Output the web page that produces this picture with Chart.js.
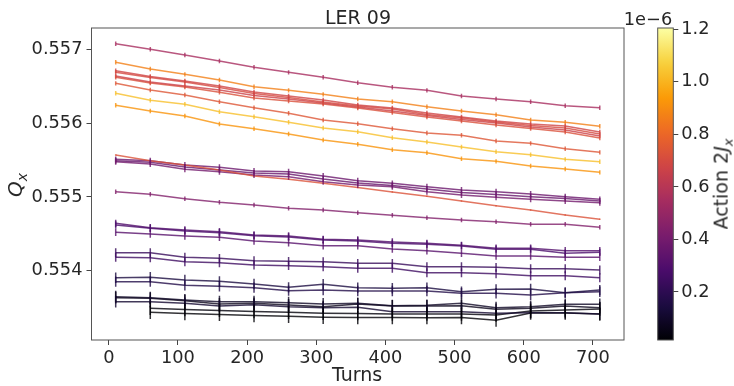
<!DOCTYPE html>
<html>
<head>
<meta charset="utf-8">
<script src="https://cdn.jsdelivr.net/npm/chart.js@4"></script>
<style>
body { margin: 0; background: #fff; }
#wrap { position: relative; width: 734px; height: 386px; font-family: "DejaVu Sans", sans-serif; color: #262626; }
canvas { position: absolute; top: 0; }
.lbl { position: absolute; white-space: nowrap; line-height: 1; transform: translate(-50%, -50%); }
.rot { transform: translate(-50%, -50%) rotate(-90deg); }
</style>
</head>
<body>
<div id="wrap">
  <canvas id="main" width="734" height="386" style="left:0"></canvas>
  <canvas id="cbar" width="94" height="386" style="left:640px"></canvas>
  <div class="lbl" style="left:358px;top:17px;font-size:19px">LER 09</div>
  <div class="lbl" style="left:357px;top:374px;font-size:19px">Turns</div>
  <div class="lbl rot" style="left:17px;top:185px;font-size:20px"><i>Q</i><sub style="font-size:14px"><i>x</i></sub></div>
  <div class="lbl rot" style="left:723px;top:184px;font-size:19px">Action 2<i>J</i><sub style="font-size:13px"><i>x</i></sub></div>
  <div class="lbl" style="left:648px;top:19px;font-size:17.8px">1e−6</div>
</div>
<script>
// turns at which the tune was measured
const turns = [10, 60, 110, 160, 210, 260, 310, 360, 410, 460, 510, 560, 610, 660, 710];

// top group (high tune)
const t1 = [0.557076, 0.557000, 0.556923, 0.556841, 0.556756, 0.556688, 0.556621, 0.556547, 0.556485, 0.556444, 0.556368, 0.556327, 0.556290, 0.556236, 0.556209];
const t2 = [0.556824, 0.556733, 0.556661, 0.556584, 0.556493, 0.556444, 0.556390, 0.556327, 0.556290, 0.556222, 0.556164, 0.556114, 0.556042, 0.556011, 0.555957];
const t3 = [0.556710, 0.556631, 0.556570, 0.556503, 0.556421, 0.556367, 0.556313, 0.556245, 0.556205, 0.556137, 0.556083, 0.556028, 0.555988, 0.555961, 0.555879];
const t4 = [0.556688, 0.556618, 0.556557, 0.556482, 0.556401, 0.556347, 0.556286, 0.556232, 0.556191, 0.556117, 0.556069, 0.556015, 0.555967, 0.555934, 0.555852];
const t5 = [0.556638, 0.556557, 0.556503, 0.556449, 0.556374, 0.556327, 0.556272, 0.556218, 0.556164, 0.556103, 0.556049, 0.556001, 0.555947, 0.555907, 0.555825];
const t6 = [0.556621, 0.556543, 0.556489, 0.556417, 0.556340, 0.556300, 0.556259, 0.556205, 0.556144, 0.556083, 0.556028, 0.555974, 0.555927, 0.555879, 0.555798];
const t7 = [0.556539, 0.556449, 0.556381, 0.556290, 0.556209, 0.556133, 0.556042, 0.555992, 0.555924, 0.555866, 0.555835, 0.555758, 0.555726, 0.555653, 0.555604];
const t8 = [0.556404, 0.556309, 0.556255, 0.556154, 0.556087, 0.556011, 0.555934, 0.555883, 0.555802, 0.555744, 0.555676, 0.555612, 0.555572, 0.555509, 0.555477];
const t9 = [0.556241, 0.556164, 0.556096, 0.555988, 0.555924, 0.555852, 0.555771, 0.555713, 0.555640, 0.555599, 0.555518, 0.555482, 0.555418, 0.555378, 0.555333];

// middle group
const m1 = [0.555568, 0.555491, 0.555432, 0.555364, 0.555283, 0.555238, 0.555184, 0.555127, 0.555066, 0.555008, 0.554944, 0.554881, 0.554822, 0.554755, 0.554696];
const m2 = [0.555509, 0.555491, 0.555432, 0.555401, 0.555351, 0.555341, 0.555283, 0.555220, 0.555184, 0.555138, 0.555093, 0.555070, 0.555039, 0.555003, 0.554967];
const m3 = [0.555491, 0.555469, 0.555405, 0.555364, 0.555324, 0.555310, 0.555243, 0.555188, 0.555154, 0.555107, 0.555060, 0.555033, 0.555003, 0.554978, 0.554944];
const m4 = [0.555477, 0.555446, 0.555374, 0.555341, 0.555297, 0.555274, 0.555206, 0.555161, 0.555138, 0.555070, 0.555026, 0.554995, 0.554967, 0.554944, 0.554921];
const m5 = [0.555070, 0.555035, 0.554976, 0.554927, 0.554890, 0.554846, 0.554822, 0.554786, 0.554751, 0.554718, 0.554687, 0.554664, 0.554629, 0.554629, 0.554588];
const m6 = [0.554642, 0.554583, 0.554551, 0.554528, 0.554484, 0.554470, 0.554425, 0.554416, 0.554389, 0.554371, 0.554344, 0.554304, 0.554304, 0.554271, 0.554271];
const m7 = [0.554619, 0.554575, 0.554538, 0.554515, 0.554474, 0.554457, 0.554416, 0.554402, 0.554371, 0.554358, 0.554335, 0.554290, 0.554290, 0.554236, 0.554249];
const m8 = [0.554520, 0.554497, 0.554470, 0.554453, 0.554402, 0.554379, 0.554339, 0.554339, 0.554294, 0.554271, 0.554236, 0.554199, 0.554199, 0.554182, 0.554182];

// bottom group (low amplitude)
const b1 = [0.554244, 0.554244, 0.554182, 0.554168, 0.554136, 0.554127, 0.554122, 0.554100, 0.554100, 0.554054, 0.554054, 0.554046, 0.554027, 0.554027, 0.554009];
const b2 = [0.554182, 0.554176, 0.554122, 0.554108, 0.554077, 0.554068, 0.554054, 0.554033, 0.554033, 0.553973, 0.553973, 0.553959, 0.553932, 0.553932, 0.553905];
const b3 = [0.553905, 0.553911, 0.553874, 0.553856, 0.553820, 0.553775, 0.553816, 0.553770, 0.553762, 0.553770, 0.553715, 0.553748, 0.553752, 0.553702, 0.553738];
const b4 = [0.553851, 0.553851, 0.553802, 0.553789, 0.553770, 0.553729, 0.553738, 0.553725, 0.553725, 0.553725, 0.553694, 0.553694, 0.553671, 0.553702, 0.553715];
const b5 = [0.553648, 0.553634, 0.553603, 0.553580, 0.553580, 0.553566, 0.553549, 0.553558, 0.553526, 0.553531, 0.553558, 0.553499, 0.553512, 0.553545, 0.553545];
const b6 = [0.553634, 0.553626, 0.553593, 0.553549, 0.553558, 0.553535, 0.553512, 0.553549, 0.553522, 0.553522, 0.553526, 0.553477, 0.553491, 0.553522, 0.553499];
const b7 = [0.553580, 0.553580, 0.553558, 0.553522, 0.553539, 0.553512, 0.553499, 0.553504, 0.553444, 0.553444, 0.553444, 0.553423, 0.553431, 0.553431, 0.553413];
const b8 = [null, 0.553491, 0.553474, 0.553461, 0.553447, 0.553436, 0.553423, 0.553420, 0.553413, 0.553413, 0.553413, 0.553400, 0.553454, 0.553467, 0.553481];
const b9 = [null, 0.553436, 0.553420, 0.553407, 0.553393, 0.553382, 0.553369, 0.553366, 0.553366, 0.553363, 0.553366, 0.553330, 0.553427, 0.553427, 0.553413];

const series = [t1, t2, t3, t4, t5, t6, t7, t8, t9, m1, m2, m3, m4, m5, m6, m7, m8, b1, b2, b3, b4, b5, b6, b7, b8, b9];
// action 2Jx of each particle, in units of 1e-6
const actions = [0.55, 0.87, 0.68, 0.70, 0.66, 0.72, 0.74, 1.03, 0.92, 0.73, 0.38, 0.36, 0.40, 0.44, 0.30, 0.28, 0.32, 0.23, 0.25, 0.15, 0.17, 0.09, 0.07, 0.11, 0.03, 0.02];
// half height of the error bars
const errs = [0.00003, 0.00003, 0.00003, 0.00003, 0.00003, 0.00003, 0.00003, 0.00003, 0.00003, 0.00001, 0.00004, 0.00004, 0.00004, 0.00003, 0.00005, 0.00005, 0.00005, 0.00006, 0.00006, 0.00007, 0.00007, 0.00008, 0.00008, 0.00008, 0.00009, 0.00009];

const xTicks = [0, 100, 200, 300, 400, 500, 600, 700];
const yTicks = [0.554, 0.555, 0.556, 0.557];
const cbTicks = [0.2, 0.4, 0.6, 0.8, 1.0, 1.2];
const cbMin = 0.017, cbMax = 1.205;

// inferno colormap
const inf = ['#000004', '#1b0c41', '#4a0c6b', '#781c6d', '#a52c60', '#cf4446', '#ed6925', '#fb9b06', '#f7d13d', '#fcffa4'];
function hex(h) { return [1, 3, 5].map(i => parseInt(h.substr(i, 2), 16)); }
function inferno(t, alpha) {
  t = Math.max(0, Math.min(1, t));
  const p = t * (inf.length - 1), i = Math.min(inf.length - 2, Math.floor(p)), f = p - i;
  const a = hex(inf[i]), b = hex(inf[i + 1]);
  const c = a.map((v, k) => Math.round(v + (b[k] - v) * f));
  return `rgba(${c[0]},${c[1]},${c[2]},${alpha})`;
}
const norm = a => (a - cbMin) / (cbMax - cbMin);

Chart.defaults.font.family = '"DejaVu Sans", sans-serif';
Chart.defaults.color = '#262626';

const datasets = series.map((q, i) => ({
  data: turns.map((t, j) => q[j] == null ? null : { x: t, y: q[j] }).filter(Boolean),
  borderColor: inferno(norm(actions[i]), 0.8),
  borderWidth: 1.5,
  pointRadius: 0,
  tension: 0,
  fill: false
}));

const errorBars = {
  id: 'errorBars',
  afterDatasetsDraw(chart) {
    const { ctx, chartArea: a, scales: { x, y } } = chart;
    ctx.save();
    ctx.beginPath();
    ctx.rect(a.left, a.top, a.right - a.left, a.bottom - a.top);
    ctx.clip();
    ctx.lineWidth = 1.5;
    chart.data.datasets.forEach((ds, i) => {
      ctx.strokeStyle = ds.borderColor;
      ds.data.forEach(p => {
        const px = x.getPixelForValue(p.x);
        ctx.beginPath();
        ctx.moveTo(px, y.getPixelForValue(p.y - errs[i]));
        ctx.lineTo(px, y.getPixelForValue(p.y + errs[i]));
        ctx.stroke();
      });
    });
    ctx.restore();
  }
};

const frame = {
  id: 'frame',
  afterDraw(chart) {
    const { ctx, chartArea: a } = chart;
    ctx.save();
    ctx.strokeStyle = '#555';
    ctx.lineWidth = 1;
    ctx.strokeRect(a.left, a.top, a.right - a.left, a.bottom - a.top);
    ctx.restore();
  }
};

const tickGrid = { display: true, drawOnChartArea: false, drawTicks: true, tickLength: 5, color: '#444', lineWidth: 1 };

new Chart(document.getElementById('main'), {
  type: 'line',
  data: { datasets },
  options: {
    responsive: false,
    animation: false,
    layout: { padding: { left: 0, top: 28, right: 110, bottom: 0 } },
    plugins: { legend: { display: false }, tooltip: { enabled: false } },
    scales: {
      x: {
        type: 'linear', min: -25, max: 745,
        afterBuildTicks: s => { s.ticks = xTicks.map(v => ({ value: v })); },
        afterFit: s => { s.height = 46; },
        ticks: { font: { size: 17.8 }, padding: 3, maxRotation: 0, callback: v => String(v) },
        grid: tickGrid,
        border: { display: false }
      },
      y: {
        type: 'linear', min: 0.553061, max: 0.557289,
        afterBuildTicks: s => { s.ticks = yTicks.map(v => ({ value: v })); },
        afterFit: s => { s.width = 91.5; },
        ticks: { font: { size: 17.8 }, padding: 4, callback: v => v.toFixed(3) },
        grid: tickGrid,
        border: { display: false }
      }
    }
  },
  plugins: [errorBars, frame]
});

const cbFill = {
  id: 'cbFill',
  beforeDatasetsDraw(chart) {
    const { ctx, chartArea: a } = chart;
    const g = ctx.createLinearGradient(0, a.bottom, 0, a.top);
    for (let k = 0; k <= 40; k++) g.addColorStop(k / 40, inferno(k / 40, 1));
    ctx.save();
    ctx.fillStyle = g;
    ctx.fillRect(a.left, a.top, a.right - a.left, a.bottom - a.top);
    ctx.restore();
  }
};

new Chart(document.getElementById('cbar'), {
  type: 'scatter',
  data: { datasets: [{ data: [] }] },
  options: {
    responsive: false,
    animation: false,
    layout: { padding: { left: 17.7, top: 28, right: 0, bottom: 46 } },
    plugins: { legend: { display: false }, tooltip: { enabled: false } },
    scales: {
      x: { display: false, min: 0, max: 1 },
      y: {
        position: 'right', min: cbMin, max: cbMax,
        afterBuildTicks: s => { s.ticks = cbTicks.map(v => ({ value: v })); },
        afterFit: s => { s.width = 60.7; },
        ticks: { font: { size: 17.8 }, padding: 3, callback: v => v.toFixed(1) },
        grid: tickGrid,
        border: { display: false }
      }
    }
  },
  plugins: [cbFill, frame]
});
</script>
</body>
</html>
